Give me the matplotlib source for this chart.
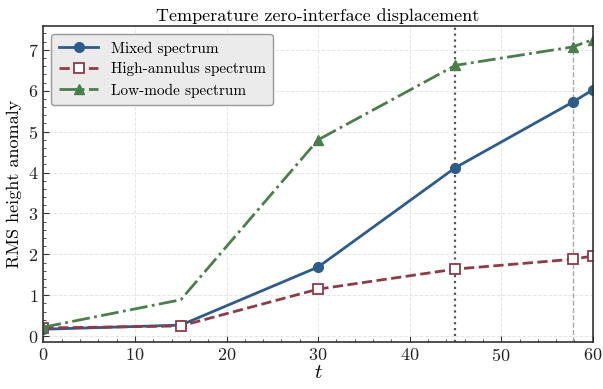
import matplotlib
matplotlib.use("Agg")
import matplotlib.pyplot as plt
from matplotlib.ticker import AutoMinorLocator

plt.rcParams['font.family'] = ['cmr10', 'DejaVu Serif']
plt.rcParams['mathtext.fontset'] = 'cm'
plt.rcParams['axes.formatter.use_mathtext'] = True

# sample times
t = [0, 15, 30, 45, 57.8, 60]

mixed = [0.17, 0.27, 1.69, 4.12, 5.72, 6.02]
high_annulus = [0.2, 0.25, 1.15, 1.64, 1.88, 1.96]
low_mode = [0.22, 0.89, 4.8, 6.62, 7.07, 7.25]

event_t = 45
end_t = 57.8

fig, ax = plt.subplots(figsize=(6.03, 3.89), dpi=100)

ax.grid(True, color='#e6e6e6', linestyle='--', linewidth=0.7)
ax.set_axisbelow(True)

ax.axvline(event_t, color='#555555', linestyle=':', linewidth=1.6, zorder=1)
ax.axvline(end_t, color='#aaaaaa', linestyle='--', linewidth=1.0, zorder=1)

ax.plot(t, mixed, color='#2d5b8c', linestyle='-', linewidth=2.0,
        marker='o', markersize=7, label='Mixed spectrum')
ax.plot(t, high_annulus, color='#8f3a46', linestyle='--', linewidth=2.0,
        marker='s', markersize=7, markerfacecolor='white', markeredgewidth=1.3,
        label='High-annulus spectrum')
ax.plot(t, low_mode, color='#4a7f4b', linestyle='-.', linewidth=2.0,
        marker='^', markersize=7, markevery=[0, 2, 3, 4, 5],
        label='Low-mode spectrum')

ax.set_xlim(0, 60)
ax.set_ylim(-0.15, 7.58)
ax.set_title('Temperature zero-interface displacement', fontsize=13, pad=4)
ax.set_xlabel('$t$', fontsize=15, labelpad=0)
ax.set_ylabel('RMS height anomaly', fontsize=13)

ax.xaxis.set_minor_locator(AutoMinorLocator(5))
ax.yaxis.set_minor_locator(AutoMinorLocator(5))
ax.tick_params(which='both', direction='in', labelsize=13, colors='#333333')
ax.tick_params(which='major', length=4)
ax.tick_params(which='minor', length=2)
ax.tick_params(labelcolor='#222222')
for s in ax.spines.values():
    s.set_color('#333333')
    s.set_linewidth(1.2)

leg = ax.legend(loc='upper left', fontsize=11, frameon=True, fancybox=True,
                handlelength=2.6, borderpad=0.5, labelspacing=0.45)
leg.get_frame().set_facecolor('#ebebeb')
leg.get_frame().set_edgecolor('#999999')
leg.get_frame().set_alpha(1.0)

fig.subplots_adjust(left=0.072, right=0.983, top=0.933, bottom=0.12)
fig.savefig('out.png', dpi=100)
